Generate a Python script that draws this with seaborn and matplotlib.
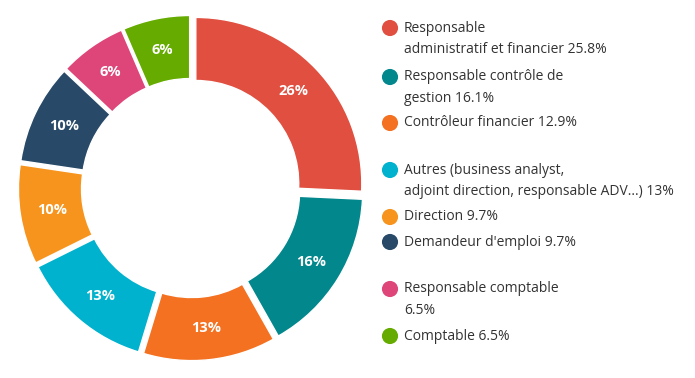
import matplotlib
matplotlib.use("Agg")
import matplotlib.pyplot as plt
import seaborn as sns

# Données
categories = [
    "Responsable\nadministratif et financier",
    "Responsable contrôle de\ngestion",
    "Contrôleur financier",
    "Autres (business analyst,\nadjoint direction, responsable ADV...)",
    "Direction",
    "Demandeur d'emploi",
    "Responsable comptable\n",
    "Comptable",
]
values = [25.8, 16.1, 12.9, 13, 9.7, 9.7, 6.5, 6.5]
value_labels = ["25.8%", "16.1%", "12.9%", "13%", "9.7%", "9.7%", "6.5%", "6.5%"]
colors = ["#E04F3F", "#02878C", "#F37121", "#00B2CD",
          "#F7941D", "#284A68", "#DE4579", "#65AB00"]

sns.set_theme(style="white")
plt.rcParams['font.family'] = ['Open Sans', 'DejaVu Sans']

W, H = 695, 378
fig = plt.figure(figsize=(W / 100, H / 100), dpi=100)

# Donut
R = 166          # rayon extérieur en pixels
cx, cy = 191, 190
lim = 1.1
size = 2 * lim * R
ax = fig.add_axes([(cx - size / 2) / W, (cy - size / 2) / H, size / W, size / H])
wedges, _, autotexts = ax.pie(
    values, colors=colors, startangle=90, counterclock=False,
    explode=[0.04] * len(values), radius=1.0,
    wedgeprops=dict(width=0.38, edgecolor="white", linewidth=1),
    autopct=lambda p: f"{p:.0f}%", pctdistance=0.81,
    textprops=dict(color="white", fontsize=10.5, fontweight="bold"),
)
ax.set_xlim(-lim, lim)
ax.set_ylim(-lim, lim)
ax.set_aspect("equal")
ax.axis("off")

# Légende (positions en pixels depuis le haut)
item_y = [28, 77, 123, 170, 217, 242, 289, 336]
line_step = 21.5
lax = fig.add_axes([0, 0, 1, 1])
lax.set_xlim(0, W)
lax.set_ylim(H, 0)
lax.axis("off")
for cat, val, col, y in zip(categories, value_labels, colors, item_y):
    lines = cat.split("\n")
    lines[-1] = (lines[-1] + " " + val).strip()
    lax.scatter([390], [y], s=135, color=col, edgecolor="none")
    for i, line in enumerate(lines):
        lax.text(404, y + i * line_step, line, fontsize=10, color="#333333",
                 va="center", ha="left")

fig.savefig("out.png", dpi=100)
